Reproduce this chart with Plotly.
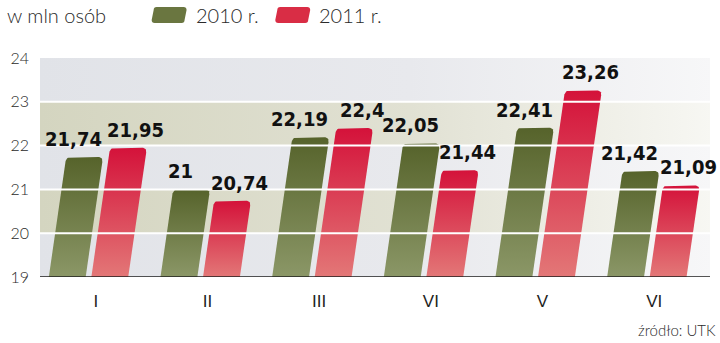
import plotly.graph_objects as go

# Passenger numbers (millions) per month, two years
months = ["I", "II", "III", "VI", "V", "VI"]
y2010 = [21.74, 21.00, 22.19, 22.05, 22.41, 21.42]
y2011 = [21.95, 20.74, 22.40, 21.44, 23.26, 21.09]
y_ticks = [19, 20, 21, 22, 23, 24]
series_names = ["2010 r.", "2011 r."]
source_text = "źródło: UTK"
unit_text = "w mln osób"

# Figure geometry
W, H = 720, 343
M_L, M_R, M_T, M_B = 38, 10, 58, 66
PLOT_W = W - M_L - M_R
PLOT_H = H - M_T - M_B
Y_MIN, Y_MAX = 19, 24
N = len(months)
PX_PER_X = PLOT_W / N
PX_PER_Y = PLOT_H / (Y_MAX - Y_MIN)
SLANT = 0.145          # horizontal shift per pixel of bar height
RADIUS = 5             # top corner radius, px

# bar placement relative to the category centre (category units)
BAR_OFFSETS = [-0.421, -0.040]
BAR_WIDTH = 0.330
LABEL_SHIFT = [-11, 7]

GREEN = ("#8b9767", "#56632b")   # bottom, top
RED = ("#e37777", "#d4123a")


def rounded_bar(x_left, width, base, top):
    """Slanted bar outline with rounded top corners, in data coordinates."""
    h = (top - base) * PX_PER_Y
    x0 = x_left * PX_PER_X
    w = width * PX_PER_X
    s = SLANT * h
    corners = [(x0, 0.0), (x0 + w, 0.0), (x0 + w + s, h), (x0 + s, h)]
    pts = [corners[0], corners[1]]
    for i in (2, 3):
        p = corners[i]
        a = corners[i - 1]
        b = corners[(i + 1) % 4]

        def toward(q):
            dx, dy = q[0] - p[0], q[1] - p[1]
            d = (dx * dx + dy * dy) ** 0.5
            return (p[0] + RADIUS * dx / d, p[1] + RADIUS * dy / d)

        p1, p2 = toward(a), toward(b)
        for k in range(9):
            t = k / 8
            bx = (1 - t) ** 2 * p1[0] + 2 * (1 - t) * t * p[0] + t * t * p2[0]
            by = (1 - t) ** 2 * p1[1] + 2 * (1 - t) * t * p[1] + t * t * p2[1]
            pts.append((bx, by))
    pts.append(corners[0])
    xs = [p[0] / PX_PER_X for p in pts]
    ys = [base + p[1] / PX_PER_Y for p in pts]
    return xs, ys, (x0 + s + w / 2) / PX_PER_X


def fmt(v):
    return f"{v:g}".replace(".", ",")


fig = go.Figure()

# striped background bands fading out to the right
band_colors = {
    "grey": ["#e1e3e8", "#e8e9ed", "#f7f7f8"],
    "beige": ["#d4d5c0", "#e1e1d3", "#f7f7f3"],
}
for lo in range(Y_MIN, Y_MAX):
    key = "beige" if lo in (20, 22) else "grey"
    c = band_colors[key]
    fig.add_trace(go.Scatter(
        x=[-0.5, N - 0.5, N - 0.5, -0.5, -0.5],
        y=[lo, lo, lo + 1, lo + 1, lo],
        mode="lines", line=dict(width=0), fill="toself",
        fillgradient=dict(type="horizontal", start=-0.5, stop=N - 0.5,
                          colorscale=[[0, c[0]], [0.55, c[1]], [1, c[2]]]),
        hoverinfo="skip", showlegend=False,
    ))

annotations = []
for s_idx, (vals, cols) in enumerate([(y2010, GREEN), (y2011, RED)]):
    for i, v in enumerate(vals):
        xs, ys, xtop = rounded_bar(i + BAR_OFFSETS[s_idx], BAR_WIDTH, Y_MIN, v)
        fig.add_trace(go.Scatter(
            x=xs, y=ys, mode="lines", line=dict(width=0), fill="toself",
            fillgradient=dict(type="vertical", start=Y_MIN, stop=v,
                              colorscale=[[0, cols[0]], [1, cols[1]]]),
            name=series_names[s_idx], hoverinfo="skip", showlegend=False,
        ))
        annotations.append(dict(
            x=xtop, y=v, xref="x", yref="y", text=fmt(v), showarrow=False,
            xanchor="center", yanchor="bottom", xshift=LABEL_SHIFT[s_idx], yshift=4,
            font=dict(family="DejaVu Sans Condensed, Roboto Condensed, Roboto",
                      size=20, color="#111111", weight="bold"),
        ))

shapes = []
# white grid lines drawn over the bars
for g in y_ticks[1:-1]:
    shapes.append(dict(type="line", xref="paper", yref="y", x0=0, x1=1, y0=g, y1=g,
                       line=dict(color="white", width=2), layer="above"))
# base line
shapes.append(dict(type="line", xref="paper", yref="y", x0=0, x1=1, y0=Y_MIN, y1=Y_MIN,
                   line=dict(color="#1e1e1e", width=1.6), layer="above"))


def px_x(px):
    return (px - M_L) / PLOT_W


def px_y(py):
    return (H - M_B - py) / PLOT_H


# legend swatches
for left, color in [(150, "#6a7640"), (274, "#d92d45")]:
    x0, x1 = left, left + 33
    y0, y1 = 23, 7
    sk = 2
    path = (f"M {px_x(x0 + 3)} {px_y(y0)} L {px_x(x1 - 3)} {px_y(y0)} "
            f"Q {px_x(x1)} {px_y(y0)} {px_x(x1)} {px_y(y0 - 3)} "
            f"L {px_x(x1 + sk)} {px_y(y1 + 3)} Q {px_x(x1 + sk)} {px_y(y1)} {px_x(x1 + sk - 3)} {px_y(y1)} "
            f"L {px_x(x0 + sk + 3)} {px_y(y1)} Q {px_x(x0 + sk)} {px_y(y1)} {px_x(x0 + sk)} {px_y(y1 + 3)} "
            f"L {px_x(x0)} {px_y(y0 - 3)} Q {px_x(x0)} {px_y(y0)} {px_x(x0 + 3)} {px_y(y0)} Z")
    shapes.append(dict(type="path", xref="paper", yref="paper", path=path,
                       fillcolor=color, line=dict(width=0)))

light = dict(family="Lato", color="#2a2a2a", weight=300)
annotations += [
    dict(x=px_x(3), y=px_y(15), xref="paper", yref="paper", text=unit_text,
         showarrow=False, xanchor="left", yanchor="middle", font=dict(size=20, **light)),
    dict(x=px_x(192), y=px_y(15), xref="paper", yref="paper", text=series_names[0],
         showarrow=False, xanchor="left", yanchor="middle", font=dict(size=20, **light)),
    dict(x=px_x(316), y=px_y(15), xref="paper", yref="paper", text=series_names[1],
         showarrow=False, xanchor="left", yanchor="middle", font=dict(size=20, **light)),
    dict(x=px_x(718), y=px_y(330), xref="paper", yref="paper", text=source_text,
         showarrow=False, xanchor="right", yanchor="middle", font=dict(size=15, **light)),
]

fig.update_layout(
    width=W, height=H,
    margin=dict(l=M_L, r=M_R, t=M_T, b=M_B, pad=0),
    paper_bgcolor="white", plot_bgcolor="white",
    showlegend=False,
    shapes=shapes, annotations=annotations,
    xaxis=dict(range=[-0.5, N - 0.5], tickvals=list(range(N)), ticktext=months,
               showgrid=False, zeroline=False, showline=False, ticks="",
               ticklabelstandoff=12, fixedrange=True,
               tickfont=dict(family="Liberation Sans, Arial", size=17, color="#1e1e1e")),
    yaxis=dict(range=[Y_MIN, Y_MAX], tickvals=y_ticks, showgrid=False, zeroline=False,
               showline=False, ticks="", ticklabelstandoff=10, fixedrange=True,
               tickfont=dict(size=16, **light)),
)

fig.write_html("out.html")
